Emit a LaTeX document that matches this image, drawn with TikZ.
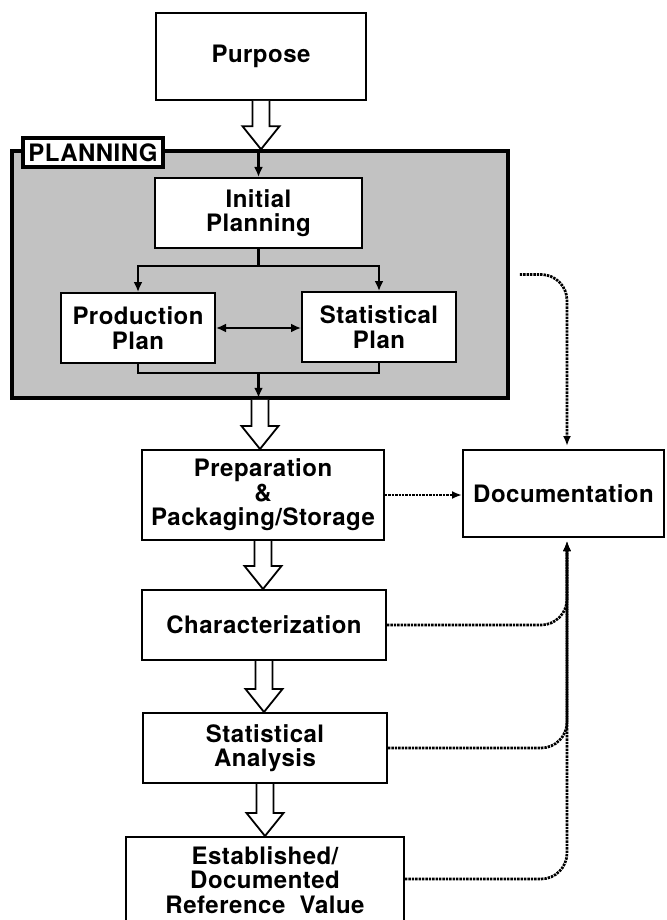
\documentclass[tikz,border=0pt]{standalone}
\usepackage{fontspec}
\setmainfont{TeX Gyre Heros}[LetterSpace=2]
\usetikzlibrary{arrows.meta,calc}
\newcommand{\harrow}[2]{%
  \draw[hollowarrow] let \p1=(#1), \p2=(#2) in
    (\x1-8.5pt,\y1) -- (\x1-8.5pt,\y2+23pt) -- (\x1-18.5pt,\y2+23pt) -- (\x1,\y2)
    -- (\x1+18.5pt,\y2+23pt) -- (\x1+8.5pt,\y2+23pt) -- (\x1+8.5pt,\y1);}
\begin{document}
\begin{tikzpicture}[x=1pt,y=-1pt,
  box/.style={draw=black, line width=2pt, fill=white, align=center,
    font=\fontsize{24}{24.5}\selectfont\bfseries, inner sep=0pt},
  frame/.style={draw=black, line width=3.5pt, fill=black!24},
  tag/.style={draw=black, line width=3.5pt, fill=white, inner sep=0pt,
    font=\fontsize{24}{24}\selectfont\bfseries},
  hollowarrow/.style={draw=black, line width=1.8pt, fill=white, line join=miter},
  thinarrow/.style={draw=black, line width=2.2pt, -{Latex[length=10pt,width=9pt]}},
  thinline/.style={draw=black, line width=2.2pt},
  dotlink/.style={draw=black, line width=2.7pt, dash pattern=on 2.4pt off 1pt,
    -{Latex[length=10pt,width=8pt]}, rounded corners=26pt}
]
\clip (0,0) rectangle (666,920);
\fill[white] (0,0) rectangle (666,920);

% planning frame
\node[frame, minimum width=496, minimum height=247] (planning) at (260,274.5) {};
\node[tag, minimum width=140, minimum height=29] (tag) at (93,152.5) {PLANNING};

% boxes
\node[box, minimum width=210, minimum height=87] (purpose) at (261,56.5) {Purpose};
\node[box, minimum width=207, minimum height=70] (init) at (258.5,213) {Initial\\Planning};
\node[box, minimum width=154, minimum height=70] (prod) at (138,328) {Production\\Plan};
\node[box, minimum width=154, minimum height=70] (stat) at (379,327) {Statistical\\Plan};
\node[box, minimum width=242, minimum height=90] (prep) at (263,495) {Preparation\\\&\\Packaging/Storage};
\node[box, minimum width=201, minimum height=87] (doc) at (563.5,493.5) {Documentation};
\node[box, minimum width=244, minimum height=70] (char) at (264,625) {Characterization};
\node[box, minimum width=244, minimum height=70] (sa) at (265,748) {Statistical\\Analysis};
\node[box, minimum width=278, minimum height=86] (est) at (265,880) {Established/\\Documented\\Reference\ \ Value};

\coordinate (bus) at (567,0);

% hollow arrows
\harrow{purpose.south}{purpose.south |- planning.north}
\harrow{planning.south}{planning.south |- prep.north}
\harrow{prep.south}{prep.south |- char.north}
\harrow{char.south}{char.south |- sa.north}
\harrow{sa.south}{sa.south |- est.north}

% inside planning
\draw[thinarrow] (init.north |- planning.north) -- (init.north);
\draw[thinarrow] (init.south) -- ++(0,17) -| (prod.north);
\draw[thinarrow] (init.south) ++(0,17) -| (stat.north);
\draw[thinline] (prod.south) -- ++(0,9) -| (stat.south);
\draw[thinarrow, shorten >=2pt] (init.south |- 0,372) -- (init.south |- planning.south);
\draw[thinline, {Latex[length=10pt,width=9pt]}-{Latex[length=10pt,width=9pt]}] (prod.east) -- (prod.east -| stat.west);

% documentation links
\draw[dotlink] ([xshift=10pt]planning.east) -| ([yshift=3pt]doc.north -| bus);
\draw[dotlink] (prep.east) -- (prep.east -| doc.west);
\draw[dotlink] (char.east) -| ([yshift=-3pt]doc.south -| bus);
\draw[dotlink] (sa.east) -| ([yshift=-3pt]doc.south -| bus);
\draw[dotlink] (est.east |- 0,879) -| ([yshift=-3pt]doc.south -| bus);
\end{tikzpicture}
\end{document}
